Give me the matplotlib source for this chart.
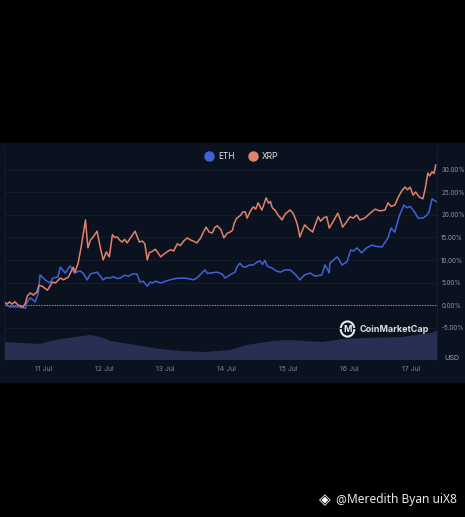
import matplotlib
matplotlib.use("Agg")
import matplotlib.pyplot as plt
from matplotlib.patches import Rectangle, Circle

xrp_days = [10.38,10.41,10.45,10.49,10.54,10.59,10.67,10.71,10.74,10.79,10.84,10.90,10.93,10.98,11.07,11.15,11.20,11.28,11.33,11.41,11.49,11.52,11.57,11.62,11.65,11.69,11.73,11.77,11.82,11.88,11.93,11.98,12.03,12.08,12.13,12.17,12.21,12.25,12.29,12.33,12.37,12.44,12.50,12.57,12.62,12.66,12.70,12.73,12.78,12.83,12.92,12.97,13.02,13.08,13.13,13.19,13.24,13.30,13.35,13.40,13.45,13.51,13.57,13.62,13.66,13.71,13.76,13.80,13.84,13.90,13.95,14.00,14.05,14.09,14.12,14.16,14.22,14.26,14.30,14.33,14.38,14.43,14.47,14.51,14.57,14.60,14.64,14.68,14.71,14.74,14.79,14.84,14.90,14.95,15.03,15.08,15.13,15.16,15.19,15.23,15.27,15.32,15.40,15.44,15.49,15.53,15.58,15.63,15.67,15.72,15.81,15.85,15.89,15.95,16.01,16.06,16.12,16.17,16.25,16.33,16.42,16.50,16.58,16.63,16.68,16.74,16.80,16.86,16.91,16.95,16.99,17.04,17.08,17.14,17.20,17.24,17.28,17.31,17.35,17.38,17.41]
xrp_pct = [0.5,0.2,0.7,0.2,0.7,0,-0.4,0.4,2,2.7,2.2,2.9,4.4,4.2,3.3,5.1,4.9,6,5.6,6.2,8.4,7.3,9.3,12.9,15.5,18.9,12.7,14.4,15.2,16.4,12.9,10,11.8,10.7,15.6,15.0,15.1,14.4,14,14.6,13.8,15.2,16.4,14,14.2,13.6,10,11.6,11.9,12.4,10.7,11.3,11.8,12.3,12.0,13.6,13.2,14.3,14.9,14.5,14.2,13.8,14.9,16.3,17.3,16.2,16.0,17.2,17.6,16.8,14.9,15.9,16.2,16.6,18.2,19.3,19.9,20.7,20.7,19.3,20.8,21.8,21.3,22.7,21.1,22.2,23.8,22.6,23.0,21.6,21.0,19.9,18.9,20.2,21.1,20.4,18.7,17.3,15.1,16.5,17.8,17.1,16.2,17.8,19.6,18.6,19.4,19.6,17.1,18.2,20.4,19,17.3,18.4,19.6,19.3,20,18.9,19.3,20.3,21.3,20.9,21.1,22.7,21.9,22.2,24,25.5,26.2,25.6,26.2,24.4,25.1,24.0,23.6,26,29.3,28.7,29.6,29.2,31.1]

eth_days = [10.38,10.46,10.58,10.71,10.74,10.79,10.87,10.92,10.95,11.03,11.11,11.16,11.24,11.28,11.36,11.44,11.51,11.60,11.65,11.72,11.77,11.88,11.98,12.03,12.09,12.15,12.20,12.26,12.32,12.39,12.46,12.53,12.58,12.63,12.70,12.75,12.79,12.83,12.92,13.00,13.07,13.17,13.27,13.36,13.45,13.51,13.56,13.64,13.68,13.72,13.84,13.92,13.97,14.05,14.13,14.17,14.21,14.26,14.30,14.37,14.43,14.49,14.54,14.58,14.62,14.66,14.74,14.80,14.87,14.95,15.03,15.11,15.19,15.27,15.36,15.44,15.55,15.60,15.64,15.67,15.68,15.74,15.80,15.88,15.96,16.02,16.07,16.12,16.20,16.28,16.37,16.45,16.53,16.63,16.68,16.74,16.82,16.89,16.94,16.99,17.04,17.08,17.12,17.20,17.26,17.30,17.35,17.38,17.43]
eth_pct = [0,-0.4,-0.4,-0.7,0.7,1.6,0.7,2.7,6.7,5.6,4.9,6,6.2,8.4,7.1,8.7,7.1,7.6,7.1,5.6,6.9,7.3,5.6,6.1,6,6.3,5.9,6,6.6,6.4,6.9,6.9,5.1,5.3,4.2,5.1,4.9,5.3,4.9,5.3,5.6,5.9,6,5.9,5.6,6.0,6.7,7.8,7.0,7.1,7.3,6.9,6,6.7,7.3,8.6,9.3,8.5,8.4,8.9,8.9,9.5,9.8,9.0,9.9,8.6,8.2,7.6,7.3,7.8,7.8,6.9,5.6,6.7,7.1,6.4,6.7,8.9,8.0,7.1,9.3,10.0,10.7,8.9,9.6,12.2,12.0,12.7,11.6,12.7,13.3,13.0,12.9,14.9,17.1,16.2,20,22.2,21.6,21.9,21.1,20.3,19.3,19.3,19.9,20.7,23.6,23.3,22.9]

# volume has no scale on the picture, so it is in relative units
vol_days = [10.36,10.62,10.95,11.11,11.28,11.52,11.77,11.93,12.09,12.50,12.90,13.23,13.64,14.05,14.30,14.74,14.98,15.55,15.88,16.20,16.85,17.33,17.43]
volume = [18,17,16,19,21,23,25,23,19,15,11,9,8,10,15,19,20,18,21,22,23,27,30]

pct_ticks = [-5,0,5,10,15,20,25,30]
day_ticks = [11,12,13,14,15,16,17]
day_labels = ["11 Jul","12 Jul","13 Jul","14 Jul","15 Jul","16 Jul","17 Jul"]

plt.rcParams['font.family'] = ['Inter', 'DejaVu Sans']
W, H = 465, 517
fig = plt.figure(figsize=(W/100, H/100), dpi=100, facecolor="black")
fig.add_artist(Rectangle((0, 1-382/H), 1, (382-143)/H, transform=fig.transFigure, color="#0b121f", zorder=0))

ax = fig.add_axes([4/W, 1-359.5/H, 433/W, 212.5/H])
ax.set_facecolor("none")
ax.set_xlim(10.36, 17.43)
ax.set_ylim(-12.1, 35.1)

# volume goes in its own axes under the lines
vax = ax.twinx()
vax.set_ylim(0, 212.5)
vax.fill_between(vol_days, volume, 0, color="#272f52", lw=0)
vax.set_yticks([])
for s in vax.spines.values():
    s.set_visible(False)
ax.set_zorder(vax.get_zorder()+1)

for p in pct_ticks:
    if p == 0:
        ax.axhline(0, color="#8d939c", lw=0.7, ls=(0, (1.5, 1.2)))
    else:
        ax.axhline(p, color="#151d2b", lw=0.8)

ax.plot(eth_days, eth_pct, color="#3f62d8", lw=1.1, label="ETH", solid_joinstyle="round")
ax.plot(xrp_days, xrp_pct, color="#e5816a", lw=1.1, label="XRP", solid_joinstyle="round")

ax.yaxis.tick_right()
ax.set_yticks(pct_ticks)
ax.set_yticklabels(["%.2f%%" % p for p in pct_ticks])
ax.set_xticks(day_ticks)
ax.set_xticklabels(day_labels)
ax.tick_params(axis="y", length=0, pad=3, labelsize=4.5, labelcolor="#9097a3")
ax.tick_params(axis="x", length=0, pad=5, labelsize=5, labelcolor="#7d8592")
for s in ["top", "bottom"]:
    ax.spines[s].set_visible(False)
ax.spines["left"].set_color("#151d2b")
ax.spines["right"].set_color("#151d2b")

ax.text(1.018, 0.005, "USD", transform=ax.transAxes, color="#a0a6b0", fontsize=5.2, va="center")

handles, labels = ax.get_legend_handles_labels()
dots = [plt.Line2D([], [], color=h.get_color(), marker="o", ls="", ms=6.5) for h in handles]
ax.legend(dots, labels, ncol=2, loc="upper center", bbox_to_anchor=(0.544, 1.0), frameon=False,
          fontsize=6, labelcolor="#e4e6ea", handletextpad=0.1, columnspacing=1.2, borderaxespad=0.2)

# CoinMarketCap mark
fig.add_artist(Circle((347.5/W, 1-329/H), 6.8/W, transform=fig.transFigure, fill=False, ec="#e8e8e8", lw=1.5))
fig.text(347.5/W, 1-329/H, "M", color="#e8e8e8", fontsize=6.5, fontweight="bold", ha="center", va="center")
fig.text(359.5/W, 1-330/H, "CoinMarketCap", color="#dcdee2", fontsize=6.5, fontweight="bold", va="center")

# watermark
fig.text(325/W, 1-500/H, "\u25c8", color="white", fontsize=11, ha="center", va="center", family=["DejaVu Sans"])
fig.text(335/W, 1-500/H, "@", color="#e8e8e8", fontsize=8.6, va="center", family=["Noto Sans"])
fig.text(347/W, 1-500/H, "Meredith Byan uiX8", color="#e8e8e8", fontsize=8.6, va="center", family=["Noto Sans"])

fig.savefig("out.png", dpi=100, facecolor="black")
